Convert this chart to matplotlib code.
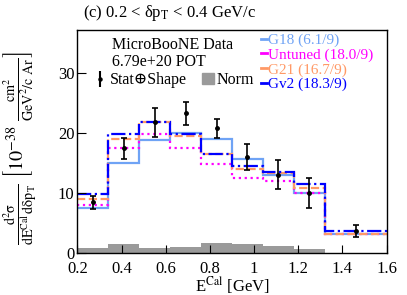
import matplotlib

matplotlib.use("Agg")
import matplotlib.pyplot as plt
import numpy as np
from matplotlib.lines import Line2D
from matplotlib.patches import Patch

EDGES = [0.2, 0.34, 0.48, 0.62, 0.76, 0.9, 1.04, 1.18, 1.32, 1.6]

DATA = [8.5, 17.45, 21.8, 23.3, 20.8, 16.05, 13.1, 10.05, 3.7]
DATA_ERR = [1.1, 1.75, 2.4, 1.9, 1.55, 2.2, 2.35, 2.45, 0.95]
NORM = [0.8, 1.5, 0.8, 1.1, 1.7, 1.5, 1.2, 0.7, 0.0]

G18 = [7.45, 15.05, 18.95, 20.05, 19.05, 15.7, 12.95, 9.95, 3.2]
UNTUNED = [8.1, 17.55, 19.9, 17.6, 14.9, 12.6, 11.95, 10.05, 3.2]
G21 = [9.05, 19.05, 21.8, 19.6, 16.5, 14.05, 13.4, 10.9, 3.2]
GV2 = [9.8, 19.8, 21.8, 19.9, 16.6, 14.5, 13.55, 11.6, 3.65]

MODELS = [
    ("G18 (6.1/9)", G18, "#6fa3f5", "-"),
    ("Untuned (18.0/9)", UNTUNED, "#ff00ff", ":"),
    ("G21 (16.7/9)", G21, "#ff9966", "--"),
    ("Gv2 (18.3/9)", GV2, "#0000ff", "-."),
]

plt.rcParams.update({
    "font.family": ["Liberation Serif", "DejaVu Serif"],
    "mathtext.fontset": "stix",
    "font.size": 11,
})

fig = plt.figure(figsize=(4.07, 2.95), dpi=100)
ax = fig.add_axes([0.190, 0.142, 0.760, 0.756])

edges = np.array(EDGES)
centers = 0.5 * (edges[:-1] + edges[1:])

ax.stairs(NORM, edges, fill=True, color="#9a9a9a", linewidth=0)
for name, vals, color, ls in MODELS:
    ax.stairs(vals, edges, color=color, linestyle=ls, linewidth=1.6, baseline=None)
ax.errorbar(centers, DATA, yerr=DATA_ERR, fmt="o", ms=2.5, color="k",
            elinewidth=1.2, capsize=2.2, capthick=1.2)

ax.set_xlim(0.2, 1.6)
ax.set_ylim(0, 37.2)
ax.set_xticks(np.arange(0.2, 1.61, 0.2))
ax.set_xticklabels(["0.2", "0.4", "0.6", "0.8", "1", "1.2", "1.4", "1.6"])
ax.set_yticks([0, 10, 20, 30])
ax.tick_params(direction="in", length=6.5, width=0.8, labelsize=12)
ax.tick_params(axis="x", pad=6, length=5.5)
ax.tick_params(axis="y", pad=2)
for s in ax.spines.values():
    s.set_linewidth(1.0)

ax.set_xlabel(r"E$^{\mathrm{Cal}}$ [GeV]", fontsize=12, labelpad=-2)
ax.set_ylabel(
    r"$\frac{\mathrm{d}^{2}\mathrm{\sigma}}{\mathrm{dE}^{\mathrm{Cal}}\,\mathrm{d\delta p}_{\mathrm{T}}}"
    r"\ \left[10^{-38}\ \frac{\mathrm{cm}^{2}}{\mathrm{GeV}^{2}/\mathrm{c\ Ar}}\right]$",
    fontsize=14.5,
)
ax.yaxis.set_label_coords(-0.125, 0.47)

fig.text(0.205, 0.955, "(c) 0.2 < δp$_{\\mathrm{T}}$ < 0.4 GeV/c",
         fontsize=12, ha="left", va="center")

ax.text(0.112, 0.935, "MicroBooNE Data", transform=ax.transAxes, fontsize=11.5,
        va="center", ha="left")
ax.text(0.112, 0.855, "6.79e+20 POT", transform=ax.transAxes, fontsize=11.5,
        va="center", ha="left")

eb = ax.errorbar([], [], yerr=[], fmt="o", ms=2.2, color="k", capsize=2)
left_leg = ax.legend(
    [eb, Patch(color="#9a9a9a")], ["Stat⊕Shape", "Norm"],
    ncol=2, loc="center left", bbox_to_anchor=(0.055, 0.775), frameon=False,
    fontsize=11.5, handlelength=0.75, handletextpad=0.2, columnspacing=0.95,
    borderaxespad=0, borderpad=0,
)
ax.add_artist(left_leg)

handles = [Line2D([], [], color=c, linestyle="-", linewidth=2) for _, _, c, _ in MODELS]
ax.legend(
    handles, [m[0] for m in MODELS], loc="upper left",
    bbox_to_anchor=(0.595, 0.985), frameon=False, fontsize=11,
    handlelength=0.35, handletextpad=0.1, labelspacing=0.05,
    labelcolor="linecolor", borderaxespad=0, borderpad=0,
)

fig.savefig("out.png", dpi=100)
